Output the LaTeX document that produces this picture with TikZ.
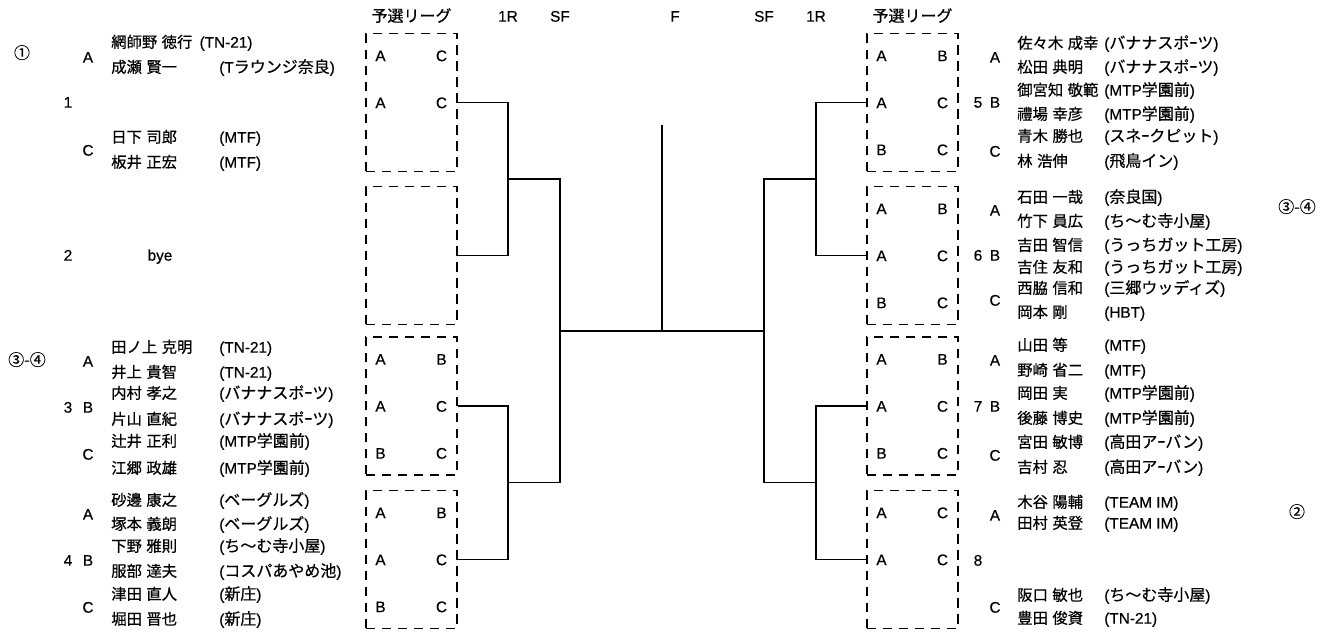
\documentclass[tikz,border=0pt]{standalone}
\usepackage{fontspec}
\setmainfont{Noto Sans CJK JP}[WordSpace=1.3, FakeBold=0.5]
\newfontfamily\latin{Liberation Sans}[Scale=0.96, FakeBold=0.5]
\newcommand\team[1]{{\latin(}#1{\latin)}}
\usetikzlibrary{positioning}

\tikzset{
    txt/.style={inner sep=0pt, text height=9.5pt, text depth=1pt,
        font=\fontsize{12pt}{14pt}\selectfont},
    lat/.style={txt, font=\fontsize{12pt}{14pt}\selectfont\latin},
    entry/.style={txt, anchor=west},
    player/.style={entry, font=\fontsize{11.5pt}{14pt}\selectfont},
    tag/.style={lat},
    cell/.style={lat},
    head/.style={txt},
    seed/.style={txt},
    league/.style={draw, dash pattern=on 7pt off 5pt, line width=0.9pt,
        minimum width=68.25pt, minimum height=103.5pt, inner sep=0pt},
    link/.style={line width=1pt}
}

\begin{document}
\begin{tikzpicture}[x=0.75pt, y=-0.75pt]
    \useasboundingbox (0,0) rectangle (1329,632);
    \node[head] (head-lq) at (411.5,16) {予選リーグ};
    \node[head, lat] (head-l1r) at (508,16) {1R};
    \node[head, lat] (head-lsf) at (560,16) {SF};
    \node[head, lat] (head-f) at (675,16) {F};
    \node[head, lat] (head-rsf) at (764,16) {SF};
    \node[head, lat] (head-r1r) at (816,16) {1R};
    \node[head] (head-rq) at (912.5,16) {予選リーグ};

    \foreach \y [count=\i] in {102.5,255.5,406,559.5} {
        \node[league] (lq\i) at (411.5,\y) {};
        \node[league] (rq\i) at (912.5,\y) {};
    }
    \foreach \b/\r/\p/\q in {lq1/1/A/C, lq1/2/A/C, lq3/1/A/B, lq3/2/A/C, lq3/3/B/C,
        lq4/1/A/B, lq4/2/A/C, lq4/3/B/C, rq1/1/A/B, rq1/2/A/C, rq1/3/B/C,
        rq2/1/A/B, rq2/2/A/C, rq2/3/B/C, rq3/1/A/B, rq3/2/A/C, rq3/3/B/C,
        rq4/1/A/C, rq4/2/A/C} {
        \node[cell] (\b-\r-a) at ([shift={(-31,{(\r-2)*47})}]\b.center) {\p};
        \node[cell] (\b-\r-b) at ([shift={(30,{(\r-2)*47})}]\b.center) {\q};
    }

    \coordinate (l1r-a) at (508,179);
    \coordinate (l1r-b) at (508,482.75);
    \coordinate (lsf) at (560,330.9);
    \coordinate (r1r-a) at (816,179);
    \coordinate (r1r-b) at (816,482.75);
    \coordinate (rsf) at (764,330.9);
    \coordinate (champ) at (662,125);
    \draw[link] (lq1.east) -| (l1r-a) |- (lq2.east);
    \draw[link] (lq3.east) -| (l1r-b) |- (lq4.east);
    \draw[link] (l1r-a) -| (lsf);
    \draw[link] (l1r-b) -| (lsf);
    \draw[link] (rq1.west) -| (r1r-a) |- (rq2.west);
    \draw[link] (rq3.west) -| (r1r-b) |- (rq4.west);
    \draw[link] (r1r-a) -| (rsf);
    \draw[link] (r1r-b) -| (rsf);
    \draw[link] (lsf) -- (rsf);
    \draw[link] (champ) -- (champ |- lsf);

    \node[seed] (seed-1) at (22,53) {①};
    \node[seed] (seed-34l) at (27,360) {③-④};
    \node[seed] (seed-34r) at (1297,207) {③-④};
    \node[seed] (seed-2) at (1297,512) {②};

    \foreach \y/\n in {102/1, 255/2, 407/3, 560/4}
        \node[tag] (lnum\n) at (68,\y) {\n};
    \foreach \y/\g [count=\i] in {57/A, 150/C, 361/A, 407/B, 454/C, 514/A, 560/B, 607/C}
        \node[tag] (lg\i) at (88,\y) {\g};
    \node[tag] (bye) at (160,255) {bye};
    \node[player] (ln1) at (111,42) {網師野 徳行};
    \node[entry, right=5pt of ln1] (lt1) {\team{\latin TN-21}};
    \foreach \y/\nm/\tm [count=\i from 2] in {67/成瀬 賢一/{\latin T}ラウンジ奈良,
        137/日下 司郎/{\latin MTF}, 162/板井 正宏/{\latin MTF},
        347/田ノ上 克明/{\latin TN-21}, 372/井上 貴智/{\latin TN-21},
        393/内村 孝之/バナナスポｰツ, 419/片山 直紀/バナナスポｰツ,
        441/辻井 正利/{\latin MTP}学園前, 468/江郷 政雄/{\latin MTP}学園前,
        500/砂邊 康之/ベーグルズ, 524/塚本 義朗/ベーグルズ,
        546/下野 雅則/ち～む寺小屋, 571/服部 達夫/コスパあやめ池,
        594/津田 直人/新庄, 619/堀田 晋也/新庄} {
        \node[player] (ln\i) at (111,\y) {\nm};
        \node[entry] (lt\i) at (219,\y) {\team{\tm}};
    }

    \foreach \y/\n in {102/5, 255/6, 406/7, 560/8}
        \node[tag] (rnum\n) at (978,\y) {\n};
    \foreach \y/\g [count=\i] in {57/A, 102/B, 151/C, 210/A, 255/B, 300/C,
        360/A, 406/B, 455/C, 515/A, 607/C}
        \node[tag] (rg\i) at (995,\y) {\g};
    \foreach \y/\nm/\tm [count=\i] in {43/佐々木 成幸/バナナスポｰツ,
        67/松田 典明/バナナスポｰツ, 90/御宮知 敬範/{\latin MTP}学園前,
        114/禮場 幸彦/{\latin MTP}学園前, 136/青木 勝也/スネｰクピット,
        161/林 浩伸/飛鳥イン, 197/石田 一哉/奈良国,
        221/竹下 員広/ち～む寺小屋, 245/吉田 智信/うっちガット工房,
        267/吉住 友和/うっちガット工房, 288/西脇 信和/三郷ウッディズ,
        312/岡本 剛/{\latin HBT}, 345/山田 等/{\latin MTF}, 370/野崎 省二/{\latin MTF},
        393/岡田 実/{\latin MTP}学園前, 418/後藤 博史/{\latin MTP}学園前,
        442/宮田 敏博/高田アｰバン, 467/吉村 忍/高田アｰバン,
        502/木谷 陽輔/{\latin TEAM IM}, 523/田村 英登/{\latin TEAM IM},
        595/阪口 敏也/ち～む寺小屋, 618/豊田 俊資/{\latin TN-21}} {
        \node[player] (rn\i) at (1017,\y) {\nm};
        \node[entry] (rt\i) at (1104,\y) {\team{\tm}};
    }
\end{tikzpicture}
\end{document}
